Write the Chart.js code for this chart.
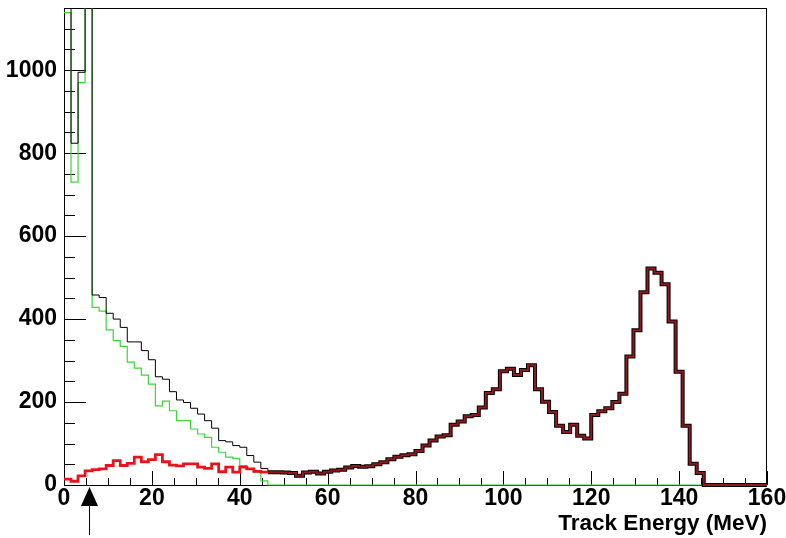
<!DOCTYPE html>
<html>
<head>
<meta charset="utf-8">
<script src="https://cdn.jsdelivr.net/npm/chart.js@4.4.1/dist/chart.umd.min.js"></script>
<style>
  html, body { margin: 0; padding: 0; background: #fff; }
  #wrap { width: 786px; height: 538px; }
</style>
</head>
<body>
<div id="wrap"><canvas id="chart"></canvas></div>
<script>
// histogram: 100 bins of 1.6 MeV from 0 to 160 MeV
const BIN_WIDTH = 1.6;
const X_TICKS = [0, 20, 40, 60, 80, 100, 120, 140, 160];
const Y_TICKS = [0, 200, 400, 600, 800, 1000];
const X_MINOR_STEP = 5;
const Y_MINOR_STEP = 50;
const Y_MAX = 1150;
const CUT_ENERGY = 5.7;   // arrow under the axis
const X_TITLE = 'Track Energy (MeV)';

// black: all tracks
const totalCounts = [
  1200, 824, 995, 1400, 458, 452, 414, 400, 380, 345,
  345, 324, 302, 261, 255, 225, 205, 199, 185, 171,
  155, 137, 107, 104, 95, 91, 71, 55, 40, 31,
  31, 30, 29, 22, 30, 32, 28, 32, 35, 37,
  42, 46, 44, 45, 50, 55, 62, 68, 72, 74,
  82, 95, 107, 117, 120, 145, 153, 166, 169, 187,
  222, 231, 274, 280, 265, 277, 289, 231, 201, 176,
  143, 128, 145, 119, 112, 169, 178, 185, 200, 220,
  310, 373, 465, 522, 512, 484, 394, 273, 143, 51,
  29, 0, 0, 0, 0, 0, 0, 0, 0, 0
];

// green: low-energy component
const greenCounts = [
  1139, 730, 970, 1300, 428, 419, 374, 348, 334, 296,
  282, 265, 243, 191, 202, 179, 155, 155, 135, 123,
  115, 91, 79, 67, 64, 47, 39, 31, 10, 0,
  0, 0, 0, 0, 0, 0, 0, 0, 0, 0,
  0, 0, 0, 0, 0, 0, 0, 0, 0, 0,
  0, 0, 0, 0, 0, 0, 0, 0, 0, 0,
  0, 0, 0, 0, 0, 0, 0, 0, 0, 0,
  0, 0, 0, 0, 0, 0, 0, 0, 0, 0,
  0, 0, 0, 0, 0, 0, 0, 0, 0, 0,
  0, 0, 0, 0, 0, 0, 0, 0, 0, 0
];

// red: signal component
const redCounts = [
  14, 9, 22, 34, 37, 39, 47, 59, 47, 52,
  67, 56, 61, 73, 56, 48, 46, 51, 51, 43,
  40, 51, 32, 43, 31, 43, 39, 33, 31, 31,
  31, 30, 29, 22, 30, 32, 28, 32, 35, 37,
  42, 46, 44, 45, 50, 55, 62, 68, 72, 74,
  82, 95, 107, 117, 120, 145, 153, 166, 169, 187,
  222, 231, 274, 280, 265, 277, 289, 231, 201, 176,
  143, 128, 145, 119, 112, 169, 178, 185, 200, 220,
  310, 373, 465, 522, 512, 484, 394, 273, 143, 51,
  29, 0, 0, 0, 0, 0, 0, 0, 0, 0
];

const FONT = '"Liberation Sans", Arial, Helvetica, sans-serif';

function histPoints(values) {
  const pts = values.map((v, i) => ({ x: i * BIN_WIDTH, y: v }));
  pts.push({ x: values.length * BIN_WIDTH, y: values[values.length - 1] });
  return pts;
}

// where green is empty the black and red histograms sit on top of each other
const overlaps = i => greenCounts[i] === 0;

const framePlugin = {
  id: 'frame',
  beforeDatasetsDraw(chart) {
    const { ctx, chartArea: a, scales: { x, y } } = chart;
    ctx.save();
    ctx.strokeStyle = '#000';
    ctx.lineWidth = 1;
    ctx.strokeRect(a.left + 0.5, a.top + 0.5, a.right - a.left - 1, a.bottom - a.top);
    ctx.beginPath();
    for (let v = 0; v <= 160; v += X_MINOR_STEP) {
      const px = Math.round(x.getPixelForValue(v)) + 0.5;
      const len = X_TICKS.includes(v) ? 14 : 7;
      ctx.moveTo(px, a.bottom);
      ctx.lineTo(px, a.bottom - len);
    }
    for (let v = 0; v <= Y_MAX; v += Y_MINOR_STEP) {
      const py = Math.round(y.getPixelForValue(v)) + 0.5;
      const len = Y_TICKS.includes(v) ? 22 : 11;
      ctx.moveTo(a.left, py);
      ctx.lineTo(a.left + len, py);
    }
    ctx.stroke();
    ctx.restore();
  },
  afterDraw(chart) {
    const { ctx, chartArea: a, scales: { x } } = chart;
    ctx.save();
    // cut arrow
    const ax = Math.round(x.getPixelForValue(CUT_ENERGY)) + 0.5;
    ctx.fillStyle = '#000';
    ctx.beginPath();
    ctx.moveTo(ax, a.bottom + 2);
    ctx.lineTo(ax - 8.5, a.bottom + 21);
    ctx.lineTo(ax + 8.5, a.bottom + 21);
    ctx.closePath();
    ctx.fill();
    ctx.strokeStyle = '#000';
    ctx.lineWidth = 1;
    ctx.beginPath();
    ctx.moveTo(ax, a.bottom + 21);
    ctx.lineTo(ax, a.bottom + 50);
    ctx.stroke();
    // axis title
    ctx.font = 'bold 22.5px ' + FONT;
    ctx.textAlign = 'right';
    ctx.textBaseline = 'alphabetic';
    ctx.fillText(X_TITLE, a.right, a.bottom + 45);
    ctx.restore();
  }
};

new Chart(document.getElementById('chart'), {
  type: 'line',
  data: {
    datasets: [
      {
        label: 'red',
        data: histPoints(redCounts),
        stepped: true,
        pointRadius: 0,
        borderColor: '#e8141c',
        borderWidth: 2.8,
        segment: {
          borderColor: c => overlaps(c.p0DataIndex) ? '#8e1a1e' : undefined,
          borderWidth: c => overlaps(c.p0DataIndex) ? 2 : undefined,
        },
        clip: { left: 2, right: 2, top: 0, bottom: 4 },
      },
      {
        label: 'total',
        data: histPoints(totalCounts),
        stepped: true,
        pointRadius: 0,
        borderColor: '#000',
        borderWidth: 1,
        segment: {
          borderWidth: c => overlaps(c.p0DataIndex) ? 4 : undefined,
        },
        clip: { left: 2, right: 2, top: 0, bottom: 4 },
      },
      {
        label: 'green',
        data: histPoints(greenCounts),
        stepped: true,
        pointRadius: 0,
        borderColor: '#3ad83a',
        borderWidth: 1.2,
        clip: { left: 2, right: 2, top: 0, bottom: 4 },
      },
    ],
  },
  options: {
    responsive: true,
    maintainAspectRatio: false,
    animation: false,
    layout: { padding: { top: 8, right: 19, left: 0, bottom: 0 } },
    plugins: {
      legend: { display: false },
      tooltip: { enabled: false },
    },
    scales: {
      x: {
        type: 'linear',
        min: 0,
        max: 160,
        grid: { display: false, drawTicks: false },
        border: { display: false },
        afterBuildTicks: s => { s.ticks = X_TICKS.map(v => ({ value: v })); },
        afterFit: s => { s.height = 53; s.paddingLeft = 0; s.paddingRight = 0; },
        ticks: {
          padding: 0,
          maxRotation: 0,
          autoSkip: false,
          color: '#000',
          font: { family: FONT, size: 23, weight: 'bold' },
          callback: v => String(v),
        },
      },
      y: {
        min: 0,
        max: Y_MAX,
        grid: { display: false, drawTicks: false },
        border: { display: false },
        afterBuildTicks: s => { s.ticks = Y_TICKS.map(v => ({ value: v })); },
        afterFit: s => { s.width = 64; s.paddingTop = 0; s.paddingBottom = 0; },
        ticks: {
          padding: 7,
          autoSkip: false,
          color: '#000',
          font: { family: FONT, size: 23, weight: 'bold' },
          callback: v => String(v),
        },
      },
    },
  },
  plugins: [framePlugin],
});
</script>
</body>
</html>
